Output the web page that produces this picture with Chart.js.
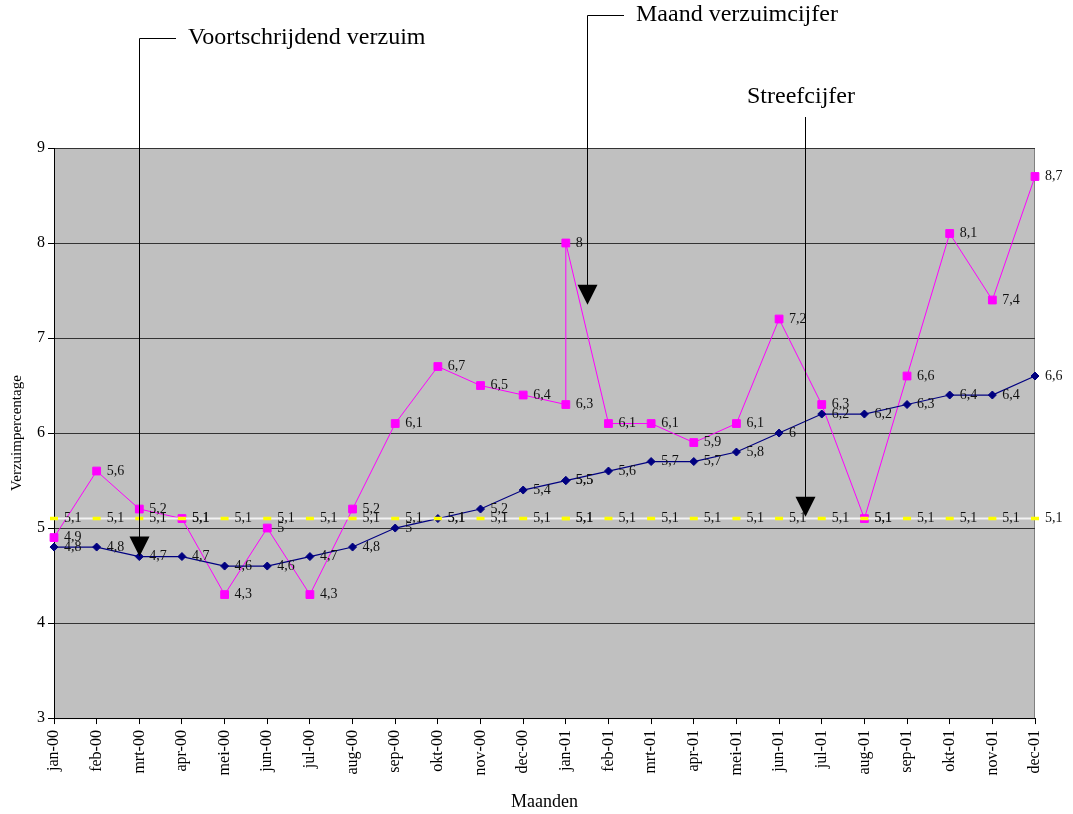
<!DOCTYPE html>
<html>
<head>
<meta charset="utf-8">
<script src="https://cdn.jsdelivr.net/npm/chart.js@4/dist/chart.umd.min.js"></script>
<style>
  html, body { margin: 0; padding: 0; background: #fff; }
  #wrap { width: 1073px; height: 814px; }
</style>
</head>
<body>
<div id="wrap"><canvas id="verzuim" width="1073" height="814"></canvas></div>
<script>
// tick labels on the x axis (24 months)
const maanden = ['jan-00', 'feb-00', 'mrt-00', 'apr-00', 'mei-00', 'jun-00', 'jul-00', 'aug-00', 'sep-00', 'okt-00', 'nov-00', 'dec-00',
  'jan-01', 'feb-01', 'mrt-01', 'apr-01', 'mei-01', 'jun-01', 'jul-01', 'aug-01', 'sep-01', 'okt-01', 'nov-01', 'dec-01']

// data rows (jan-01 occurs twice in the source table)
const rijen = ['jan-00', 'feb-00', 'mrt-00', 'apr-00', 'mei-00', 'jun-00', 'jul-00', 'aug-00', 'sep-00', 'okt-00', 'nov-00', 'dec-00',
  'jan-01', 'jan-01', 'feb-01', 'mrt-01', 'apr-01', 'mei-01', 'jun-01', 'jul-01', 'aug-01', 'sep-01', 'okt-01', 'nov-01', 'dec-01']

const maandVerzuim = [4.9, 5.6, 5.2, 5.1, 4.3, 5, 4.3, 5.2, 6.1, 6.7, 6.5, 6.4, 6.3, 8, 6.1, 6.1, 5.9, 6.1, 7.2, 6.3, 5.1, 6.6, 8.1, 7.4, 8.7]
const voortschrijdend = [4.8, 4.8, 4.7, 4.7, 4.6, 4.6, 4.7, 4.8, 5, 5.1, 5.2, 5.4, 5.5, 5.5, 5.6, 5.7, 5.7, 5.8, 6, 6.2, 6.2, 6.3, 6.4, 6.4, 6.6]
const streefcijfer = [5.1, 5.1, 5.1, 5.1, 5.1, 5.1, 5.1, 5.1, 5.1, 5.1, 5.1, 5.1, 5.1, 5.1, 5.1, 5.1, 5.1, 5.1, 5.1, 5.1, 5.1, 5.1, 5.1, 5.1, 5.1]

const yTicks = [3, 9, 1] // min, max, step

const serif = 'Liberation Serif'

function punten (values) {
  return values.map((v, i) => ({ x: rijen[i], y: v }))
}

// gray plot area with thin border
const plotAchtergrond = {
  id: 'plotAchtergrond',
  beforeDraw (chart) {
    const { ctx, chartArea: a } = chart
    ctx.save()
    ctx.fillStyle = '#c0c0c0'
    ctx.fillRect(a.left, a.top, a.right - a.left, a.bottom - a.top)
    ctx.strokeStyle = '#808080'
    ctx.lineWidth = 1
    ctx.strokeRect(a.left + 0.5, a.top + 0.5, a.right - a.left - 1, a.bottom - a.top)
    ctx.restore()
  }
}

// value labels next to every point
const waardeLabels = {
  id: 'waardeLabels',
  afterDatasetsDraw (chart) {
    const ctx = chart.ctx
    ctx.save()
    ctx.font = '14px "' + serif + '"'
    ctx.fillStyle = '#111'
    ctx.textAlign = 'left'
    ctx.textBaseline = 'middle'
    chart.data.datasets.forEach((ds, di) => {
      const meta = chart.getDatasetMeta(di)
      meta.data.forEach((pt, i) => {
        const txt = String(ds.data[i].y).replace('.', ',')
        ctx.fillText(txt, pt.x + 10, pt.y)
      })
    })
    ctx.restore()
  }
}

// arrows with callout text
const pijlen = {
  id: 'pijlen',
  afterDraw (chart) {
    const ctx = chart.ctx
    const xs = chart.scales.x
    const ys = chart.scales.y
    const items = [
      { tekst: 'Voortschrijdend verzuim', idx: 2, tip: 4.7, top: 38, tx: 188 },
      { tekst: 'Maand verzuimcijfer', idx: 12.5, tip: 7.35, top: 15, tx: 636 },
      { tekst: 'Streefcijfer', idx: 17.6, tip: 5.12, top: 117, tx: 747, ty: 97, los: true }
    ]
    ctx.save()
    ctx.strokeStyle = '#000'
    ctx.fillStyle = '#000'
    ctx.lineWidth = 1
    items.forEach(it => {
      const x = Math.round(xs.getPixelForValue(it.idx)) + 0.5
      const tipY = ys.getPixelForValue(it.tip)
      ctx.beginPath()
      if (!it.los) {
        ctx.moveTo(it.tx - 12, it.top + 0.5)
        ctx.lineTo(x, it.top + 0.5)
      } else {
        ctx.moveTo(x, it.top)
      }
      ctx.lineTo(x, tipY - 19)
      ctx.stroke()
      ctx.beginPath()
      ctx.moveTo(x - 10, tipY - 20)
      ctx.lineTo(x + 10, tipY - 20)
      ctx.lineTo(x, tipY)
      ctx.closePath()
      ctx.fill()
      ctx.font = '24px "' + serif + '"'
      ctx.textAlign = 'left'
      ctx.textBaseline = 'middle'
      ctx.fillText(it.tekst, it.tx, it.ty || it.top)
    })
    ctx.restore()
  }
}

const ctx = document.getElementById('verzuim').getContext('2d')
new Chart(ctx, {
  type: 'line',
  data: {
    labels: maanden,
    datasets: [
      {
        label: 'Streefcijfer',
        data: punten(streefcijfer),
        borderColor: '#f2f2f2',
        borderWidth: 2,
        pointStyle: 'line',
        pointRadius: 4,
        pointBorderWidth: 3.5,
        pointBorderColor: '#ffff00',
        pointBackgroundColor: '#ffff00',
        tension: 0
      },
      {
        label: 'Voortschrijdend verzuim',
        data: punten(voortschrijdend),
        borderColor: '#000080',
        borderWidth: 1.2,
        pointStyle: 'rectRot',
        pointRadius: 4,
        pointBorderWidth: 1,
        pointBorderColor: '#000080',
        pointBackgroundColor: '#000080',
        tension: 0
      },
      {
        label: 'Maand verzuimcijfer',
        data: punten(maandVerzuim),
        borderColor: '#ff00ff',
        borderWidth: 1,
        pointStyle: 'rect',
        pointRadius: 5.5,
        pointBorderWidth: 1,
        pointBorderColor: '#ff00ff',
        pointBackgroundColor: '#ff00ff',
        tension: 0
      }
    ]
  },
  options: {
    responsive: false,
    animation: false,
    layout: { padding: { top: 148, right: 38, left: 8, bottom: 1 } },
    plugins: {
      legend: { display: false },
      tooltip: { enabled: false }
    },
    scales: {
      x: {
        type: 'category',
        offset: false,
        grid: { drawOnChartArea: false, drawTicks: true, tickLength: 6, color: '#000' },
        border: { color: '#000' },
        ticks: {
          autoSkip: false,
          minRotation: 90,
          maxRotation: 90,
          padding: 6,
          color: '#000',
          font: { family: serif, size: 16 }
        },
        title: {
          display: true,
          text: 'Maanden',
          color: '#000',
          font: { family: serif, size: 18 },
          padding: { top: 10, bottom: 0 }
        }
      },
      y: {
        min: yTicks[0],
        max: yTicks[1],
        grid: { color: '#333', tickColor: '#000', tickLength: 6 },
        border: { color: '#000' },
        ticks: {
          stepSize: yTicks[2],
          padding: 3,
          color: '#000',
          font: { family: serif, size: 16 }
        },
        title: {
          display: true,
          text: 'Verzuimpercentage',
          color: '#000',
          font: { family: serif, size: 15 },
          padding: { top: 0, bottom: 8 }
        }
      }
    }
  },
  plugins: [plotAchtergrond, waardeLabels, pijlen]
})
</script>
</body>
</html>
